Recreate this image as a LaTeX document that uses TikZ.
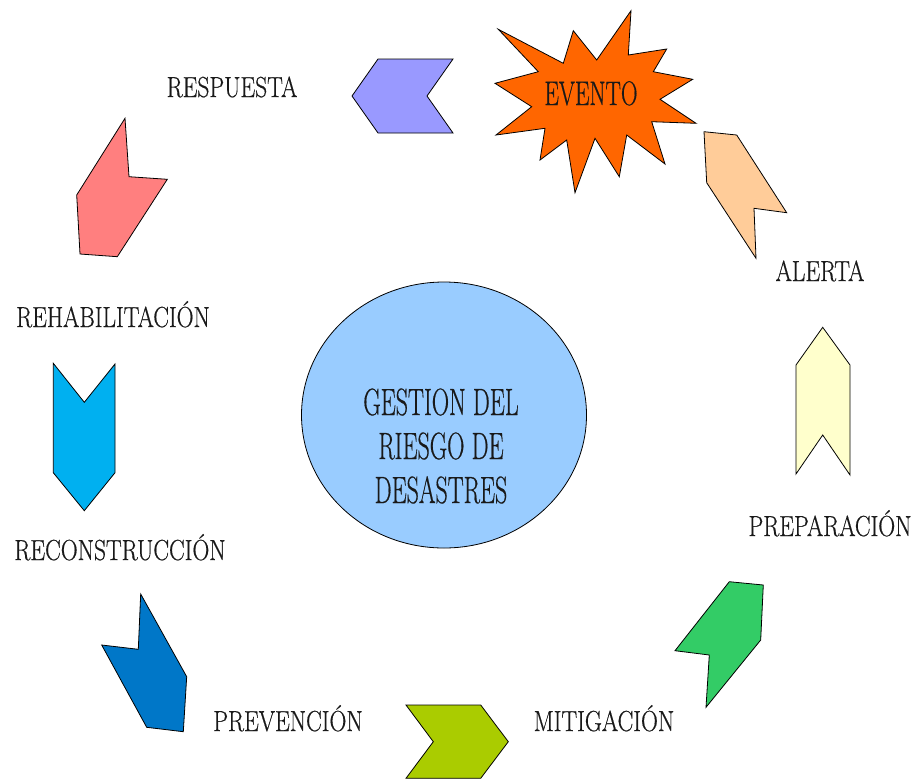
\documentclass[tikz,border=0pt]{standalone}
\usepackage{fontspec}
\setmainfont{Latin Modern Roman}[FakeBold=0.6]
\usepackage{graphicx}
\usetikzlibrary{shapes.geometric}
\definecolor{cpurple}{HTML}{9999FF}
\definecolor{corange}{HTML}{FF6600}
\definecolor{cred}{HTML}{FF7F7F}
\definecolor{clblue}{HTML}{00B0F0}
\definecolor{cdblue}{HTML}{0077C8}
\definecolor{clime}{HTML}{AACC00}
\definecolor{cgreen}{HTML}{33CC66}
\definecolor{cyellow}{HTML}{FFFFCC}
\definecolor{cpeach}{HTML}{FFCC99}
\definecolor{cell}{HTML}{99CCFF}
\newcommand{\lbltext}[1]{\scalebox{0.81}[1]{#1}}
\newcommand{\ctrtext}[1]{\scalebox{0.63}[1]{#1}}
\newcommand{\evttext}[1]{\scalebox{0.68}[1]{#1}}
\begin{document}
\begin{tikzpicture}[x=1pt,y=-1pt,
  shp/.style={draw=black, line width=0.8pt, line join=miter},
  lbl/.style={font=\fontsize{29}{35}\selectfont, text=black!90, inner sep=0pt, anchor=base},
  ctr/.style={font=\fontsize{38}{44}\selectfont, text=black!90, inner sep=0pt, anchor=base},
  evt/.style={font=\fontsize{34}{40}\selectfont, text=black!90, inner sep=0pt, anchor=base}]
\useasboundingbox (0,0) rectangle (916,780);
\fill[white] (0,0) rectangle (916,780);

% centre ellipse
\node[shp, ellipse, fill=cell, minimum width=285pt, minimum height=266pt, inner sep=0pt] (core) at (444,415) {};
\node[ctr] (g1) at (441,415) {\ctrtext{GESTION DEL}};
\node[ctr] (g2) at (441,459) {\ctrtext{RIESGO DE}};
\node[ctr] (g3) at (441,503) {\ctrtext{DESASTRES}};

% EVENTO star
\filldraw[shp, fill=corange] (498.3,29.3) -- (563.3,63.3) -- (573.3,30.7) -- (596.7,60) -- (631,10.7) -- (628.3,55) -- (666.7,49) -- (653.3,71.7) -- (692.7,79.3) -- (660,99.3) -- (696,123.3) -- (651.7,121.7) -- (665,164) -- (626.7,135) -- (619.3,176.7) -- (595,138.3) -- (575,192.7) -- (566.7,140) -- (540,160) -- (545,128.3) -- (496,135) -- (531.7,106.7) -- (495,83.3) -- (538.3,71.7) -- cycle;
\node[evt] (evento) at (591,105) {\evttext{EVENTO}};

% RESPUESTA chevron
\filldraw[shp, fill=cpurple] (352,96) -- (378,59) -- (453,59) -- (427,96) -- (453,133) -- (378,133) -- cycle;
% REHABILITACION arrow
\filldraw[shp, fill=cred] (125,118.3) -- (129,176.7) -- (167.3,179.3) -- (117.3,256.7) -- (80,254) -- (76.7,195) -- cycle;
% RECONSTRUCCION arrow
\filldraw[shp, fill=clblue] (53.3,363.3) -- (84.3,402.3) -- (115,364) -- (115,472.7) -- (84.3,510.7) -- (53.3,472.7) -- cycle;
% PREVENCION arrow
\filldraw[shp, fill=cdblue] (140.7,594) -- (186.7,676.7) -- (183.3,731.7) -- (146.7,727.3) -- (101.7,645) -- (138.3,649.3) -- cycle;
% MITIGACION arrow
\filldraw[shp, fill=clime] (406,705) -- (480.7,705) -- (508.3,741.7) -- (480.7,778.3) -- (406,778.3) -- (433.3,741.7) -- cycle;
% PREPARACION arrow
\filldraw[shp, fill=cgreen] (729.3,581.7) -- (763.3,585) -- (760.7,640) -- (706,707.3) -- (709.3,655) -- (675,650.7) -- cycle;
% ALERTA arrow
\filldraw[shp, fill=cyellow] (822.7,327.3) -- (850,365) -- (850,475) -- (822.7,435) -- (796,474) -- (796,365) -- cycle;
% EVENTO arrow
\filldraw[shp, fill=cpeach] (704,131.7) -- (736.7,135) -- (786.7,212.7) -- (754,208.3) -- (756,258.3) -- (706.7,182.7) -- cycle;

% labels
\node[lbl] (resp) at (232,97) {\lbltext{RESPUESTA}};
\node[lbl] (rehab) at (113,327) {\lbltext{REHABILITACIÓN}};
\node[lbl] (recon) at (120,560) {\lbltext{RECONSTRUCCIÓN}};
\node[lbl] (prev) at (288,731) {\lbltext{PREVENCIÓN}};
\node[lbl] (miti) at (604,731) {\lbltext{MITIGACIÓN}};
\node[lbl] (prep) at (830,536) {\lbltext{PREPARACIÓN}};
\node[lbl] (alert) at (820,281) {\lbltext{ALERTA}};
\end{tikzpicture}
\end{document}
